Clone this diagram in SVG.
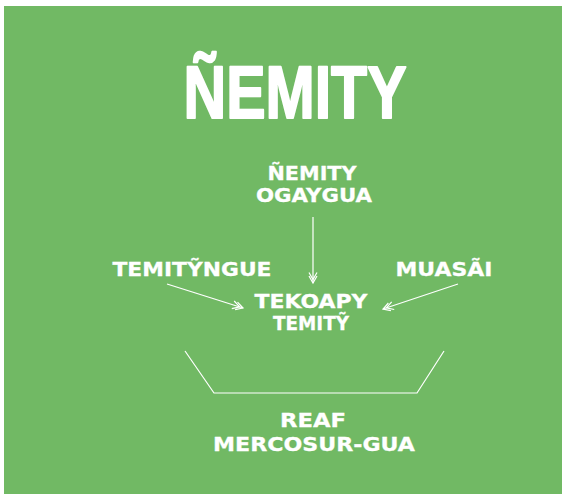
<svg xmlns="http://www.w3.org/2000/svg" width="566" height="502" viewBox="0 0 566 502">
<defs>
<style>
.t{font-family:"DejaVu Sans","Liberation Sans",sans-serif;font-weight:700;fill:#ffffff;stroke:#ffffff;stroke-width:0.3;text-anchor:middle;font-size:20px}
.title{font-family:"Liberation Sans","Arial",sans-serif;font-weight:700;fill:#ffffff;stroke:#ffffff;stroke-width:2;stroke-linejoin:round;text-anchor:middle;font-size:74px}
.c{stroke:#ffffff;stroke-width:1.2;fill:none}
</style>
<marker id="dbl" markerUnits="userSpaceOnUse" markerWidth="14" markerHeight="14" refX="11" refY="6" orient="auto" viewBox="0 0 14 12">
<path d="M4,2 L11,6 L4,10 M0.5,2 L7.5,6 L0.5,10" fill="none" stroke="#ffffff" stroke-width="1.2"/>
</marker>
</defs>
<rect x="4" y="6" width="558" height="488" fill="#71b964"/>
<g id="title"><text class="title" x="295" y="118" textLength="223" lengthAdjust="spacingAndGlyphs">ÑEMITY</text></g>
<g id="n-ogaygua">
<text class="t" x="312" y="180" textLength="89" lengthAdjust="spacingAndGlyphs">ÑEMITY</text>
<text class="t" x="314" y="202" textLength="116" lengthAdjust="spacingAndGlyphs">OGAYGUA</text>
</g>
<g id="n-temityngue"><text class="t" x="192" y="276" textLength="159" lengthAdjust="spacingAndGlyphs">TEMITỸNGUE</text></g>
<g id="n-muasai"><text class="t" x="444" y="276" textLength="97" lengthAdjust="spacingAndGlyphs">MUASÃI</text></g>
<g id="n-tekoapy">
<text class="t" x="311" y="308" textLength="113" lengthAdjust="spacingAndGlyphs">TEKOAPY</text>
<text class="t" x="311" y="330" textLength="76" lengthAdjust="spacingAndGlyphs">TEMITỸ</text>
</g>
<g id="n-reaf">
<text class="t" x="313" y="427" textLength="66" lengthAdjust="spacingAndGlyphs">REAF</text>
<text class="t" x="314" y="451" textLength="202" lengthAdjust="spacingAndGlyphs">MERCOSUR-GUA</text>
</g>
<g id="connectors">
<line class="c" x1="313" y1="217" x2="313" y2="283" marker-end="url(#dbl)"/>
<line class="c" x1="167" y1="284" x2="243" y2="308" marker-end="url(#dbl)"/>
<line class="c" x1="458" y1="284" x2="383" y2="309" marker-end="url(#dbl)"/>
<polyline class="c" points="185,351 214,393 417,393 444,351"/>
</g>
</svg>
